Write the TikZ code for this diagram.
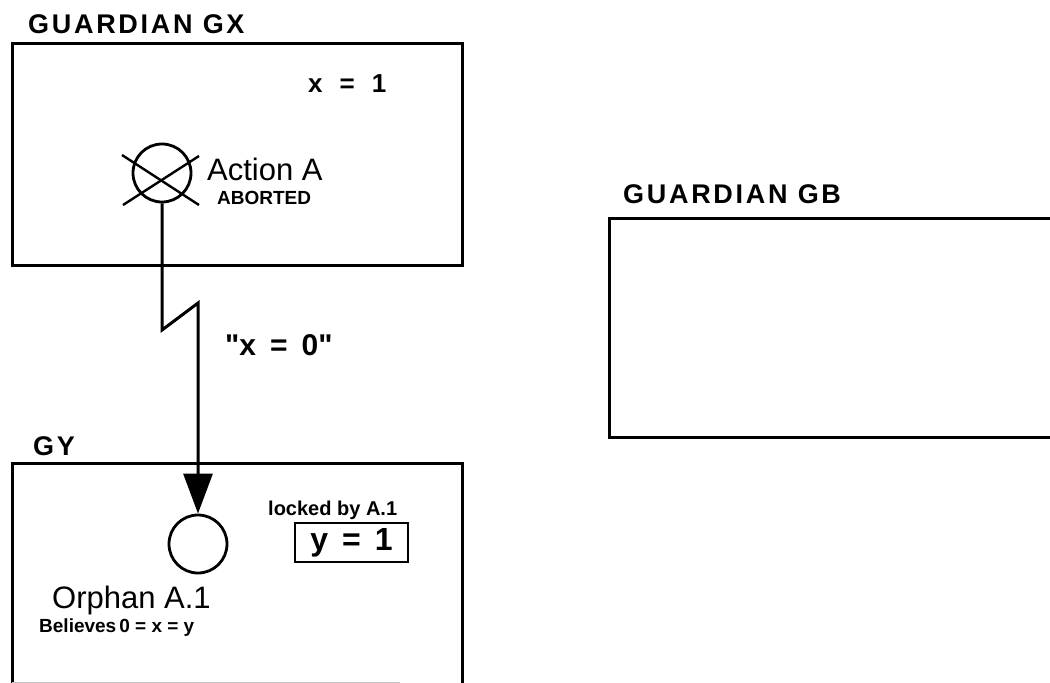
\documentclass[tikz,border=0pt]{standalone}
\usepackage{fontspec}
\setmainfont{Liberation Sans}[Ligatures=TeXOff]
\usetikzlibrary{arrows.meta}
\tikzset{
  box/.style={line width=3pt},
  lbl/.style={inner sep=0pt, anchor=base west},
  ttl/.style={lbl, font=\fontsize{27}{30}\selectfont\bfseries\addfontfeature{LetterSpace=10}},
  act/.style={circle, draw, line width=2.8pt, minimum size=58pt, inner sep=0pt},
  msg/.style={line width=3pt, line join=miter},
}
\begin{document}
\begin{tikzpicture}[x=1pt,y=-1pt]
\useasboundingbox (0,0) rectangle (1050,683);
% Guardian GX
\node[ttl] (tgx) at (28,33) {GUARDIAN GX};
\draw[box] (12,43) rectangle (462,265);
\node[lbl, font=\fontsize{26}{30}\selectfont\bfseries] (xv) at (308,92) {x\hspace{17pt}=\hspace{17pt}1};
\node[act] (ca) at (162,173) {};
\draw[line width=2.4pt] (122,155) -- (199,205);
\draw[line width=2.4pt] (123,205) -- (199,156);
\node[lbl, font=\fontsize{31}{34}\selectfont] (acta) at (207,180) {Action A};
\node[lbl, font=\fontsize{19}{22}\selectfont\bfseries] (ab) at (217,204) {ABORTED};
% Guardian GB
\node[ttl] (tgb) at (623,203) {GUARDIAN GB};
\draw[box] (1055,218) -- (609,218) -- (609,437) -- (1055,437);
% GY
\node[ttl] (tgy) at (33,455) {GY};
\draw[box] (12,690) -- (12,463) -- (462,463) -- (462,690);
\draw[gray!45, line width=1pt] (12,682) -- (400,682);
\node[act] (cb) at (198,544) {};
\node[lbl, font=\fontsize{20}{24}\selectfont\bfseries] (lk) at (268,515) {locked by A.1};
\node[draw, line width=2.8pt, minimum width=113pt, minimum height=39pt, inner sep=0pt,
      font=\fontsize{32}{34}\selectfont\bfseries] (yv) at (351.5,542.5) {y\hspace{14pt}=\hspace{14pt}1};
\node[lbl, font=\fontsize{31}{34}\selectfont] (orph) at (52,608) {Orphan A.1};
\node[lbl, font=\fontsize{19}{22}\selectfont\bfseries] (bel) at (39,632) {Believes\hspace{3pt}0 = x = y};
% message
\coordinate (z1) at (162,330);
\coordinate (z2) at (198,303);
\draw[msg, -{Triangle[width=29pt,length=40pt]}] (ca.south) -- (z1) -- (z2) -- (cb.north);
\node[lbl, font=\fontsize{30}{32}\selectfont\bfseries] (m) at (225,355) {"x\hspace{14pt}=\hspace{14pt}0"};
\end{tikzpicture}
\end{document}
